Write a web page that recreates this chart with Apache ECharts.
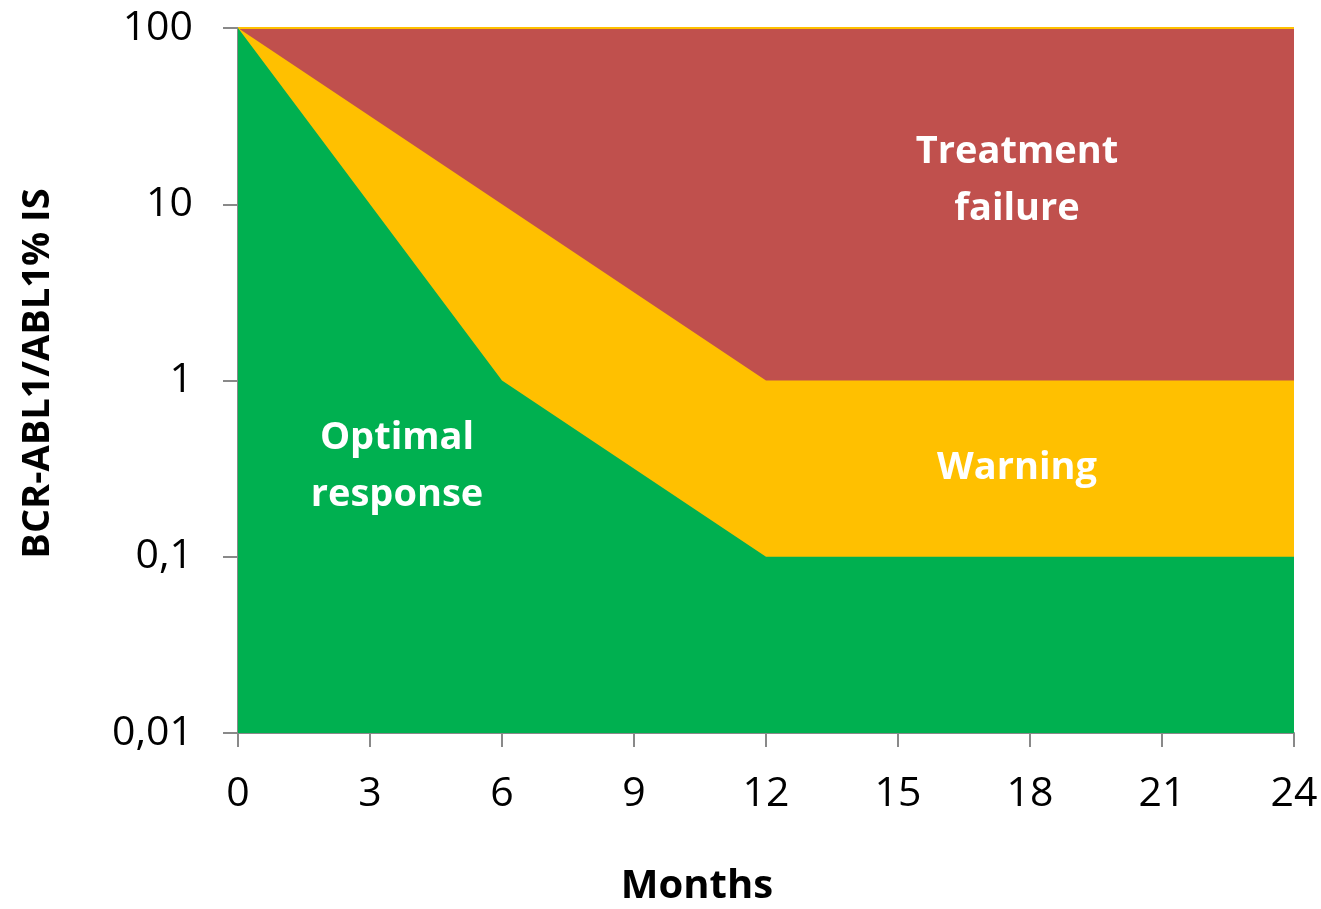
<!DOCTYPE html>
<html><head><meta charset="utf-8">
<script src="https://cdn.jsdelivr.net/npm/echarts@6/dist/echarts.min.js"></script>
<style>html,body{margin:0;padding:0;background:#fff}#c{width:1321px;height:909px}</style>
</head><body><div id="c"></div>
<script>
const months = [0, 6, 12, 24];
const failureUpper = [100, 100, 100, 100];
const warningUpper = [100, 10, 1, 1];
const optimalUpper = [100, 1, 0.1, 0.1];
const xTicks = [0, 3, 6, 9, 12, 15, 18, 21, 24];
const yTicks = [0.01, 0.1, 1, 10, 100];
const zoneLabels = ['Treatment\nfailure', 'Warning', 'Optimal\nresponse'];

const font = '"Open Sans", "Noto Sans", sans-serif';
const chart = echarts.init(document.getElementById('c'), null, {renderer: 'canvas'});
function pts(arr){ return months.map((m,i)=>[m, arr[i]]); }
function area(name, arr, color, z, line){
  return {name, type:'line', data: pts(arr), symbol:'none', z,
    lineStyle: line || {width:0, color}, areaStyle:{color, opacity:1, origin:'start'}};
}
chart.setOption({
  animation:false,
  grid:{left:238, right:27, top:28, bottom:176, outerBoundsMode:'none', containLabel:false},
  xAxis:{type:'value', min:0, max:24, interval:3,
    name:'Months', nameLocation:'middle', nameGap:134,
    nameTextStyle:{fontFamily:font, fontSize:40, fontWeight:'bold', color:'#000', padding:[0,138,0,0]},
    axisLine:{show:true, lineStyle:{color:'#898989', width:2}},
    axisTick:{show:true, length:14, lineStyle:{color:'#898989', width:2}},
    axisLabel:{fontFamily:font, fontSize:41, color:'#000', margin:41},
    splitLine:{show:false}},
  yAxis:{type:'log', logBase:10, min:0.01, max:100,
    name:'BCR-ABL1/ABL1% IS', nameLocation:'middle', nameGap:181, nameRotate:90,
    nameTextStyle:{fontFamily:font, fontSize:38, fontWeight:'bold', color:'#000', padding:[0,0,0,14]},
    axisLine:{show:true, lineStyle:{color:'#898989', width:2}},
    axisTick:{show:true, length:15, lineStyle:{color:'#898989', width:2}},
    axisLabel:{fontFamily:font, fontSize:41, color:'#000', margin:45,
      formatter:v=>String(+v.toPrecision(6)).replace('.',',')},
    splitLine:{show:false}},
  series:[
    area('Treatment failure', failureUpper, '#C0504D', 1, {width:2, color:'#FFC000'}),
    area('Warning', warningUpper, '#FFC000', 2),
    area('Optimal response', optimalUpper, '#00B050', 3)
  ],
  graphic:[
    {type:'text', x:1017, y:181, z:10, style:{text:zoneLabels[0], fill:'#fff', font:'bold 38px '+font, align:'center', verticalAlign:'middle', lineHeight:57}},
    {type:'text', x:1017, y:468, z:10, style:{text:zoneLabels[1], fill:'#fff', font:'bold 38px '+font, align:'center', verticalAlign:'middle'}},
    {type:'text', x:397, y:467, z:10, style:{text:zoneLabels[2], fill:'#fff', font:'bold 38px '+font, align:'center', verticalAlign:'middle', lineHeight:57}}
  ]
});
</script></body></html>
